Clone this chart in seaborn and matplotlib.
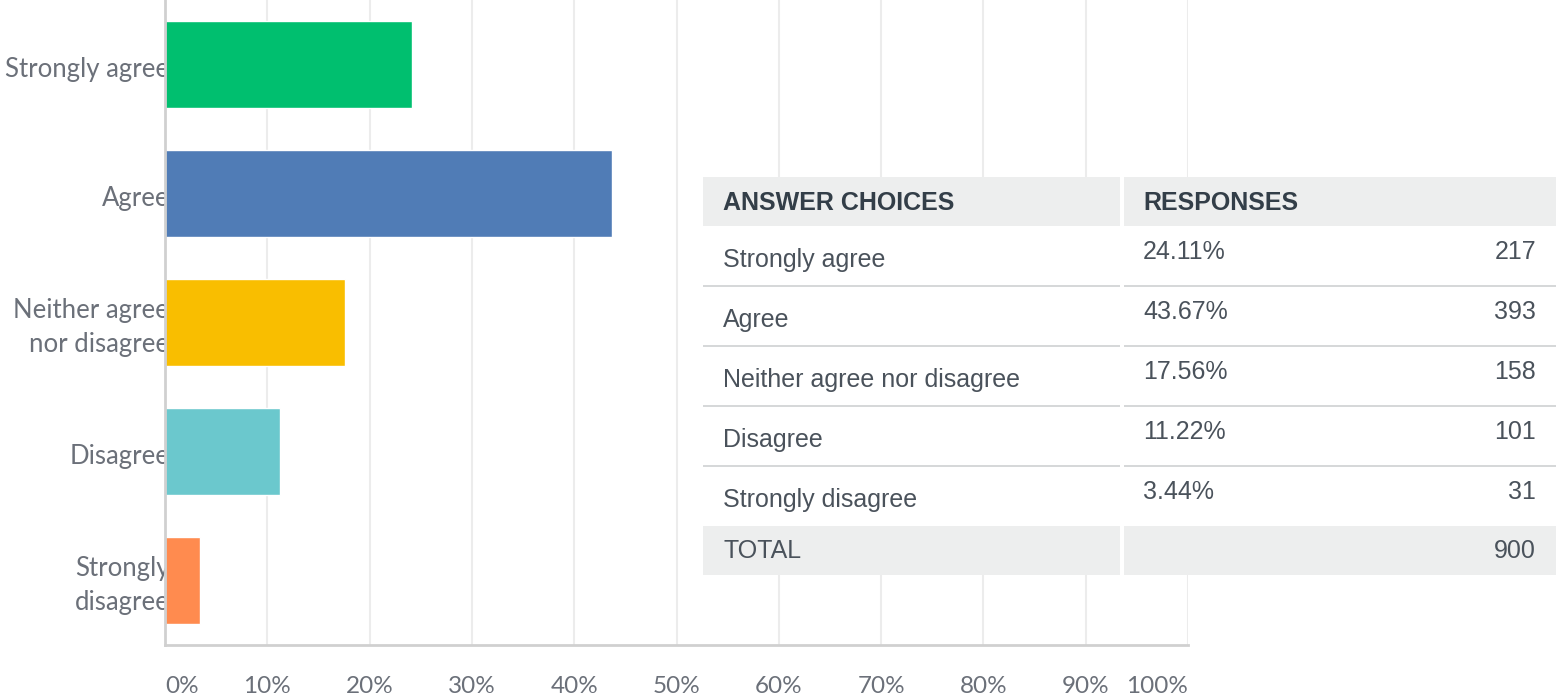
import matplotlib
matplotlib.use("Agg")
import matplotlib.pyplot as plt
import matplotlib.transforms as mtransforms
from matplotlib.patches import Rectangle
import seaborn as sns
import pandas as pd

#######################################################
### Data

choices = [
    "Strongly agree",
    "Agree",
    "Neither agree\nnor disagree",
    "Disagree",
    "Strongly\ndisagree",
]

table_choices = [
    "Strongly agree",
    "Agree",
    "Neither agree nor disagree",
    "Disagree",
    "Strongly disagree",
]

percent = [24.11, 43.67, 17.56, 11.22, 3.44]
counts = [217, 393, 158, 101, 31]
total = 900

bar_colors = ["#00BF6F", "#507CB6", "#F9BE00", "#6BC8CD", "#FF8B4F"]

x_ticks = [0, 10, 20, 30, 40, 50, 60, 70, 80, 90, 100]
x_tick_labels = ["0%", "10%", "20%", "30%", "40%", "50%",
                 "60%", "70%", "80%", "90%", "100%"]

W, H = 1556, 699

def fx(x):
    return x / W

def fy(y):
    return 1 - y / H

#######################################################
### Bar chart

sns.set_style("white")
plt.rcParams["font.family"] = ["Lato", "DejaVu Sans"]

fig = plt.figure(figsize=(W / 100, H / 100), dpi=100)
ax = fig.add_axes([fx(165), fy(645), fx(1188) - fx(165), fy(0) - fy(645)])

df = pd.DataFrame({"choice": choices, "percent": percent})

sns.barplot(
    data=df,
    x="percent",
    y="choice",
    hue="choice",
    palette=bar_colors,
    orient="h",
    width=0.67,
    legend=False,
    saturation=1,
    ax=ax,
)

ax.set_xlim(0, 100)
ax.set_ylim(4.5, -0.5)
ax.set_xlabel("")
ax.set_ylabel("")

ax.set_xticks(x_ticks)
ax.set_xticklabels(x_tick_labels, fontsize=17.5, color="#6b7079")
ax.tick_params(axis="x", length=0, pad=22)
labels = ax.get_xticklabels()
labels[0].set_horizontalalignment("left")
labels[-1].set_horizontalalignment("right")

ax.tick_params(axis="y", length=0, pad=-3, labelsize=18.5, labelcolor="#6b7079")
shift_down = mtransforms.ScaledTranslation(0, -5 / 100, fig.dpi_scale_trans)
for lab in ax.get_yticklabels():
    lab.set_linespacing(1.45)
    lab.set_verticalalignment("center")
    lab.set_transform(lab.get_transform() + shift_down)

ax.grid(axis="x", color="#ececec", linewidth=1.5)
ax.set_axisbelow(True)

for side in ["top", "right"]:
    ax.spines[side].set_visible(False)
for side in ["left", "bottom"]:
    ax.spines[side].set_color("#d0d0d0")
    ax.spines[side].set_linewidth(2)

#######################################################
### Summary table

table_font = ["Liberation Sans", "DejaVu Sans"]
col1 = (703, 1120)
col2 = (1124, 1556)
top = 177
header_h = 49
row_h = 60

def rect(x0, y0, x1, y1, color):
    fig.patches.append(
        Rectangle((fx(x0), fy(y1)), fx(x1) - fx(x0), fy(y0) - fy(y1),
                  transform=fig.transFigure, facecolor=color,
                  edgecolor="none", zorder=5)
    )

def text(x, y, s, size=18, **kw):
    fig.text(fx(x), fy(y), s, family=table_font, fontsize=size,
             zorder=6, **kw)

n_rows = len(table_choices)
body_top = top + header_h
body_bottom = body_top + n_rows * row_h

# background to hide the gridlines
rect(col1[0], top, W, body_bottom + header_h, "white")

# header and total rows
for c in (col1, col2):
    rect(c[0], top, c[1], top + header_h, "#edeeee")
    rect(c[0], body_bottom, c[1], body_bottom + header_h, "#edeeee")

# row separators
for i in range(1, n_rows):
    y = body_top + i * row_h
    for c in (col1, col2):
        rect(c[0], y - 1, c[1], y + 1, "#d6d8d9")

text(723, top + header_h / 2 + 1, "ANSWER CHOICES",
     weight="bold", color="#333e48", va="center")
text(1143, top + header_h / 2 + 1, "RESPONSES",
     weight="bold", color="#333e48", va="center")

for i, (name, p, n) in enumerate(zip(table_choices, percent, counts)):
    y0 = body_top + i * row_h
    text(723, y0 + 34, name, color="#4a525b", va="center")
    text(1143, y0 + 26, f"{p:.2f}%", color="#4a525b", va="center")
    text(1536, y0 + 26, f"{n}", color="#4a525b", va="center", ha="right")

text(723, body_bottom + header_h / 2 + 1, "TOTAL", color="#4a525b",
     va="center")
text(1536, body_bottom + header_h / 2 + 1, f"{total}", color="#4a525b",
     va="center", ha="right")

fig.savefig("out.png", dpi=100)
